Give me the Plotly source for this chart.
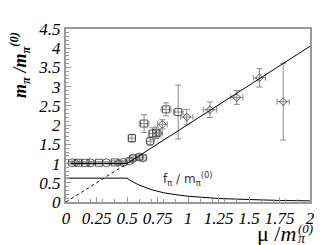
import plotly.graph_objects as go

# Theory lines
theory_x = [0.0, 0.5, 2.0]
theory_y = [1.0, 1.0, 4.05]
dotted_x = [0.0, 0.5]
dotted_y = [0.0, 1.0]

# f_pi / m_pi curve
fpi_x = [0.0, 0.5, 0.55, 0.6, 0.7, 0.8, 0.9, 1.0, 1.25, 1.5, 1.75, 2.0]
fpi_y = [0.62, 0.62, 0.52, 0.44, 0.32, 0.24, 0.19, 0.15, 0.09, 0.06, 0.04, 0.03]

# Data: circles
circ_x = [0.05, 0.2, 0.33, 0.47, 0.52, 0.55, 0.6, 0.63, 0.69]
circ_y = [1.02, 1.02, 1.02, 1.03, 1.07, 1.14, 1.17, 1.15, 1.58]
circ_ey = [0.03, 0.03, 0.03, 0.04, 0.05, 0.06, 0.06, 0.06, 0.1]
circ_ex = [0.03, 0.03, 0.03, 0.03, 0.03, 0.03, 0.03, 0.03, 0.03]

# Data: squares
sq_x = [0.1, 0.16, 0.27, 0.4, 0.54, 0.64, 0.71, 0.74, 0.82, 0.92]
sq_y = [1.02, 1.02, 1.02, 1.03, 1.66, 2.04, 1.78, 1.8, 2.41, 2.34]
sq_ey = [0.03, 0.03, 0.03, 0.04, 0.1, 0.23, 0.15, 0.15, 0.17, 0.7]
sq_ex = [0.03, 0.03, 0.03, 0.03, 0.03, 0.04, 0.03, 0.03, 0.04, 0.04]

# Data: diamonds
dm_x = [0.08, 0.43, 0.76, 0.79, 0.99, 1.18, 1.40, 1.585, 1.78]
dm_y = [1.02, 1.02, 1.79, 2.02, 2.21, 2.40, 2.72, 3.23, 2.61]
dm_ey = [0.03, 0.03, 0.1, 0.12, 0.2, 0.2, 0.18, 0.24, 1.0]
dm_ex = [0.03, 0.03, 0.03, 0.04, 0.05, 0.055, 0.05, 0.05, 0.05]

x_ticks = [0, 0.25, 0.5, 0.75, 1, 1.25, 1.5, 1.75, 2]
x_labels = ["0", "0.25", "0.5", "0.75", "1", "1.25", "1.5", "1.75", "2"]
y_ticks = [0, 0.5, 1, 1.5, 2, 2.5, 3, 3.5, 4, 4.5]
y_labels = ["0", "0.5", "1", "1.5", "2", "2.5", "3", "3.5", "4", "4.5"]

ERR = "#8a8a8a"
AX = "#9a9a9a"
MK = "#333333"

def err(vals):
    return dict(type="data", array=vals, visible=True, color=ERR, thickness=1, width=3)

fig = go.Figure()
fig.add_trace(go.Scatter(x=dotted_x, y=dotted_y, mode="lines",
                         line=dict(color="black", width=1, dash="dot")))
fig.add_trace(go.Scatter(x=fpi_x, y=fpi_y, mode="lines",
                         line=dict(color="black", width=1)))
for xs, ys, ex, ey, sym, sz in [
    (circ_x, circ_y, circ_ex, circ_ey, "circle-open", 8),
    (sq_x, sq_y, sq_ex, sq_ey, "square-open", 7),
    (dm_x, dm_y, dm_ex, dm_ey, "diamond-open", 6),
]:
    fig.add_trace(go.Scatter(x=xs, y=ys, mode="markers",
                             error_x=err(ex), error_y=err(ey),
                             marker=dict(symbol=sym, size=sz, color=MK,
                                         line=dict(width=0.8, color=MK))))
fig.add_trace(go.Scatter(x=theory_x, y=theory_y, mode="lines",
                         line=dict(color="black", width=1)))

tickfont = dict(family="Liberation Serif", size=17, color="black", style="italic")
fig.update_xaxes(range=[0, 2], tickvals=x_ticks, ticktext=x_labels,
                 ticks="inside", ticklen=5, tickcolor=AX,
                 minor=dict(dtick=0.1, ticks="inside", ticklen=3, tickcolor=AX),
                 showline=True, linecolor=AX, linewidth=2, mirror=True,
                 showgrid=False, zeroline=False, tickfont=tickfont)
fig.update_yaxes(range=[0, 4.5], tickvals=y_ticks, ticktext=y_labels,
                 ticks="inside", ticklen=5, tickcolor=AX,
                 minor=dict(dtick=0.1, ticks="inside", ticklen=3, tickcolor=AX),
                 showline=True, linecolor=AX, linewidth=2, mirror=True,
                 showgrid=False, zeroline=False, tickfont=tickfont)

SERIF = "Liberation Serif"
fig.add_annotation(text="<b><i>m<sub>π</sub> /m<sub>π</sub><sup>(0)</sup></i></b>",
                   xref="paper", yref="paper", x=-0.19, y=0.79, textangle=-90,
                   xanchor="center", yanchor="middle",
                   showarrow=False, font=dict(family=SERIF, size=18, color="black"))
# x-axis title, composed of parts so the superscript sits below the last tick label
fig.add_annotation(text="μ /<i>m</i>", xref="paper", yref="paper",
                   x=0.951, y=-0.181, xanchor="right", yanchor="middle",
                   showarrow=False, font=dict(family=SERIF, size=22, color="black"))
fig.add_annotation(text="<i>π</i>", xref="paper", yref="paper",
                   x=0.943, y=-0.209, xanchor="left", yanchor="middle",
                   showarrow=False, font=dict(family=SERIF, size=14, color="black"))
fig.add_annotation(text="<i>(0)</i>", xref="paper", yref="paper",
                   x=0.943, y=-0.155, xanchor="left", yanchor="middle",
                   showarrow=False, font=dict(family=SERIF, size=13, color="black"))
fig.add_annotation(text="f<sub>π</sub> / m<sub>π</sub><sup>(0)</sup>",
                   xref="x", yref="y", x=1.0, y=0.6,
                   showarrow=False, font=dict(family="DejaVu Sans", size=12, color="#333"))

fig.update_layout(width=319, height=237, showlegend=False,
                  margin=dict(l=58, r=17, t=17, b=43),
                  paper_bgcolor="white", plot_bgcolor="white")
fig.write_html("out.html")
